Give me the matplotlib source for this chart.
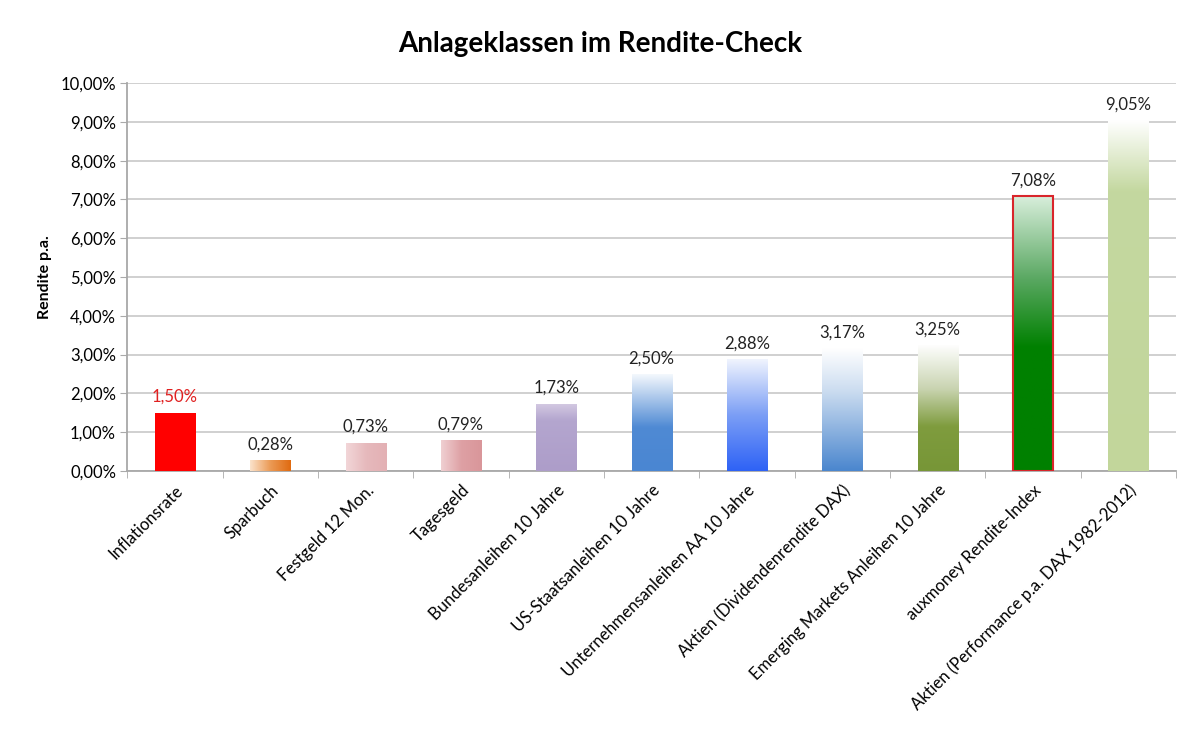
import matplotlib.pyplot as plt
import numpy as np
from matplotlib.colors import LinearSegmentedColormap
from matplotlib.ticker import FuncFormatter, FixedLocator

plt.rcParams['font.family'] = ['Lato', 'DejaVu Sans']

categories = ['Inflationsrate', 'Sparbuch', 'Festgeld 12 Mon.', 'Tagesgeld',
              'Bundesanleihen 10 Jahre', 'US-Staatsanleihen 10 Jahre',
              'Unternehmensanleihen AA 10 Jahre', 'Aktien (Dividendenrendite DAX)',
              'Emerging Markets Anleihen 10 Jahre', 'auxmoney Rendite-Index',
              'Aktien (Performance p.a. DAX 1982-2012)']
values = [1.50, 0.28, 0.73, 0.79, 1.73, 2.50, 2.88, 3.17, 3.25, 7.08, 9.05]
labels = ['1,50%', '0,28%', '0,73%', '0,79%', '1,73%', '2,50%', '2,88%',
          '3,17%', '3,25%', '7,08%', '9,05%']

# gradient stops per bar: (direction, [(pos, color), ...]) ; pos 0 = top / left
gradients = [
    ('v', [(0, '#ff0000'), (1, '#ff0000')]),
    ('h', [(0, '#fbe3cc'), (0.5, '#eb9a55'), (1, '#e06a10')]),
    ('h', [(0, '#f2d6d8'), (0.5, '#e6b9bc'), (1, '#e3b0b4')]),
    ('h', [(0, '#f0d0d2'), (0.5, '#dea0a4'), (1, '#d9969a')]),
    ('v', [(0, '#d4cae2'), (0.25, '#b4a6cf'), (1, '#ad9dc9')]),
    ('v', [(0, '#f4f8fd'), (0.55, '#4f8ad4'), (1, '#4a86d2')]),
    ('v', [(0, '#f0f4fe'), (0.5, '#7b9ef5'), (1, '#2e62f6')]),
    ('v', [(0, '#ffffff'), (0.35, '#cbdcf0'), (1, '#4a86ce')]),
    ('v', [(0, '#ffffff'), (0.35, '#c9d4b1'), (0.65, '#7f9c3e'), (1, '#779637')]),
    ('v', [(0, '#d8eedb'), (0.3, '#5aa862'), (0.55, '#008000'), (1, '#008000')]),
    ('v', [(0, '#ffffff'), (0.2, '#c4d8a0'), (1, '#c2d69b')]),
]

fig = plt.figure(figsize=(12, 7.29), dpi=100)
ax = fig.add_axes([0.106, 0.354, 0.874, 0.532])

x = np.arange(len(categories))
width = 0.42
bars = ax.bar(x, values, width=width, color='none', edgecolor='none', zorder=3)

for bar, (direction, stops) in zip(bars, gradients):
    cmap = LinearSegmentedColormap.from_list('g', stops)
    grad = np.linspace(0, 1, 256)
    if direction == 'v':
        img = grad.reshape(-1, 1)
    else:
        img = grad.reshape(1, -1)
    x0, w, h = bar.get_x(), bar.get_width(), bar.get_height()
    im = ax.imshow(img, cmap=cmap, aspect='auto', extent=[x0, x0 + w, 0, h],
                   origin='upper', zorder=3, interpolation='bicubic')
    im.set_clip_path(bar)

# red outline on auxmoney bar
b = bars[9]
ax.add_patch(plt.Rectangle((b.get_x(), 0), b.get_width(), b.get_height(),
                           fill=False, edgecolor='#d9252b', linewidth=1.5, zorder=4))

for i, (v, lab) in enumerate(zip(values, labels)):
    ax.text(i, v + 0.2, lab, ha='center', va='bottom', fontsize=12,
            color='#e02020' if i == 0 else '#222222', zorder=5)

ax.set_xlim(-0.5, len(categories) - 0.5)
ax.set_ylim(0, 10)
ax.set_yticks(np.arange(0, 11, 1))
ax.yaxis.set_major_formatter(FuncFormatter(lambda v, p: f'{v:.2f}%'.replace('.', ',')))
ax.yaxis.grid(True, color='#c8c8c8', linewidth=1.2, zorder=0)
ax.set_axisbelow(True)

ax.set_xticks(x)
ax.set_xticklabels(categories, rotation=45, ha='right', rotation_mode='anchor', fontsize=12)
ax.tick_params(axis='x', length=0, pad=8)
ax.xaxis.set_minor_locator(FixedLocator(np.arange(-0.5, len(categories), 1)))
ax.tick_params(axis='x', which='minor', length=5, color='#aaaaaa')
ax.tick_params(axis='y', length=5, color='#aaaaaa', labelsize=12, pad=3)

for s in ['top', 'right']:
    ax.spines[s].set_visible(False)
for s in ['left', 'bottom']:
    ax.spines[s].set_color('#a8a8a8')
    ax.spines[s].set_linewidth(1.3)

ax.set_ylabel('Rendite p.a.', fontsize=11.5, fontweight='bold', labelpad=6)
fig.suptitle('Anlageklassen im Rendite-Check', fontsize=20, fontweight='bold',
             x=0.5, y=0.957)

fig.savefig('out.png', dpi=100)
